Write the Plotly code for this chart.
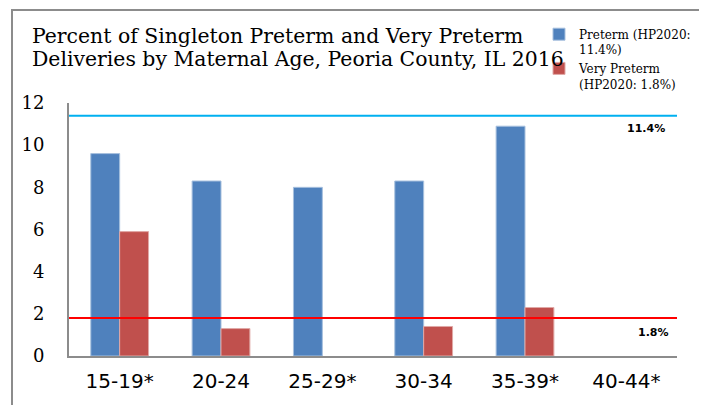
import plotly.graph_objects as go

categories = ["15-19*", "20-24", "25-29*", "30-34", "35-39*", "40-44*"]
preterm = [9.6, 8.3, 8.0, 8.3, 10.9, None]
very_preterm = [5.9, 1.3, None, 1.4, 2.3, None]
hp_preterm = 11.4
hp_very = 1.8
y_ticks = [0, 2, 4, 6, 8, 10, 12]
title_lines = ["Percent of Singleton Preterm and Very Preterm",
               "Deliveries by Maternal Age, Peoria County, IL 2016"]

W, H = 707, 405
OFF = 8  # page body margin offset
# desired page pixel positions of plot area
P_LEFT, P_RIGHT, P_TOP, P_BOTTOM = 69, 677, 103, 355.7
L = P_LEFT - OFF
R = W - (P_RIGHT - OFF)
T = P_TOP - OFF
B = H - (P_BOTTOM - OFF)
pw = P_RIGHT - P_LEFT
ph = P_BOTTOM - P_TOP

def px_x(p):
    return (p - P_LEFT) / pw

def px_y(p):
    return (P_BOTTOM - p) / ph

SERIF = "DejaVu Serif"

fig = go.Figure()
fig.add_trace(go.Bar(
    x=categories, y=preterm, name="Preterm (HP2020:<br>11.4%)",
    marker=dict(color="#4F81BD", line=dict(color="#A7C0DE", width=1)),
))
fig.add_trace(go.Bar(
    x=categories, y=very_preterm, name="Very Preterm<br>(HP2020: 1.8%)",
    marker=dict(color="#C0504D", line=dict(color="#E0A8A6", width=1)),
))

fig.add_hline(y=hp_preterm, line=dict(color="#00B0F0", width=2))
fig.add_hline(y=hp_very, line=dict(color="#FF0000", width=2))

fig.add_annotation(x=px_x(667), xref="paper", y=hp_preterm, yref="y", yshift=-13,
                   text="<b>11.4%</b>", showarrow=False, xanchor="right",
                   font=dict(family="DejaVu Sans", size=11, color="#000"))
fig.add_annotation(x=px_x(671), xref="paper", y=hp_very, yref="y", yshift=-14,
                   text="<b>1.8%</b>", showarrow=False, xanchor="right",
                   font=dict(family="DejaVu Sans", size=11, color="#000"))

# title lines (tight line spacing as in reference)
for line, yc in zip(title_lines, [36, 59]):
    fig.add_annotation(x=px_x(30), xref="paper", y=px_y(yc), yref="paper",
                       text=line, showarrow=False, xanchor="left", yanchor="middle",
                       font=dict(family=SERIF, size=20.4, color="#000"))

# outer frame
fig.add_shape(type="rect", xref="paper", yref="paper",
              x0=px_x(12), x1=px_x(703), y0=px_y(420), y1=px_y(10),
              line=dict(color="#8C8C8C", width=2), layer="below")

fig.update_layout(
    width=W, height=H,
    margin=dict(l=L, r=R, t=T, b=B),
    paper_bgcolor="white", plot_bgcolor="white",
    barmode="group", bargap=0.43, bargroupgap=0,
    legend=dict(
        x=px_x(539), y=px_y(20), xanchor="left", yanchor="top",
        font=dict(family=SERIF, size=12, color="#000"),
        bgcolor="rgba(0,0,0,0)", itemwidth=30, tracegroupgap=0,
        valign="top",
    ),
    showlegend=True,
    xaxis=dict(
        showline=True, linecolor="#8C8C8C", linewidth=2,
        ticks="", tickfont=dict(family="DejaVu Sans", size=20, color="#000"),
        ticklabelstandoff=6,
    ),
    yaxis=dict(
        range=[0, 12], tickvals=y_ticks, showgrid=False, zeroline=False,
        showline=True, linecolor="#8C8C8C", linewidth=2,
        ticks="", tickfont=dict(family=SERIF, size=18, color="#000"),
        ticklabelstandoff=19,
    ),
)

fig.write_html("out.html")
